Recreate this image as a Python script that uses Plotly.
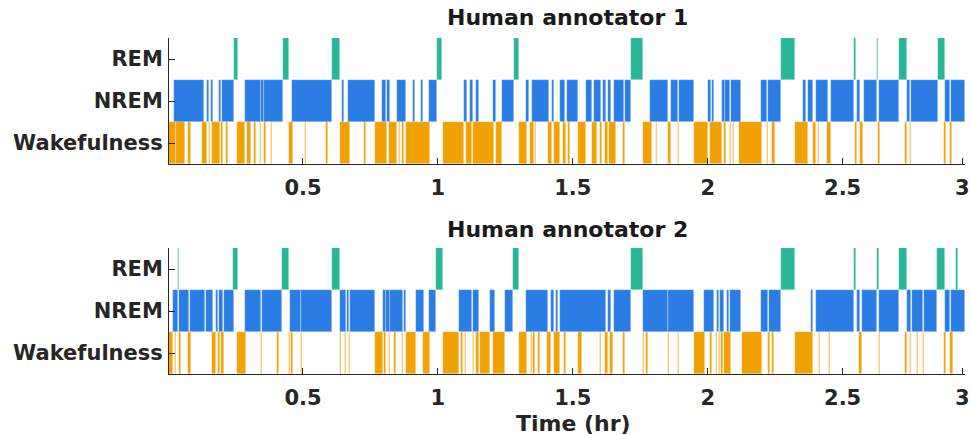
import plotly.graph_objects as go

# ---------------- data (time in hours) ----------------
STATES = ["Wakefulness", "NREM", "REM"]
X_TICK_VALS = [0.5, 1, 1.5, 2, 2.5, 2.944]
X_TICK_TEXT = ["0.5", "1", "1.5", "2", "2.5", "3"]
X_RANGE = [0.0035, 2.9536]
TITLES = ["Human annotator 1", "Human annotator 2"]
X_LABEL = "Time (hr)"

A1_REM = [(0.244, 0.259), (0.425, 0.447), (0.606, 0.636), (0.998, 1.017), (1.283, 1.299),
          (1.714, 1.760), (2.271, 2.324), (2.542, 2.548), (2.628, 2.632), (2.709, 2.737),
          (2.854, 2.879)]
A1_NREM = [(0.023, 0.133), (0.143, 0.153), (0.158, 0.165), (0.190, 0.198), (0.199, 0.244),
           (0.285, 0.343), (0.345, 0.355), (0.357, 0.425), (0.461, 0.606), (0.646, 0.651),
           (0.668, 0.766), (0.792, 0.806), (0.811, 0.821), (0.848, 0.882), (0.909, 0.917),
           (0.938, 0.944), (0.968, 0.998), (1.098, 1.108), (1.120, 1.129), (1.141, 1.153),
           (1.199, 1.202), (1.205, 1.215), (1.237, 1.283), (1.328, 1.338), (1.347, 1.412),
           (1.424, 1.431), (1.453, 1.470), (1.478, 1.520), (1.549, 1.572), (1.578, 1.605),
           (1.612, 1.622), (1.630, 1.640), (1.653, 1.689), (1.693, 1.714), (1.785, 1.853),
           (1.864, 1.890), (1.895, 1.948), (2.000, 2.012), (2.016, 2.022), (2.053, 2.063),
           (2.065, 2.084), (2.087, 2.124), (2.198, 2.219), (2.222, 2.271), (2.352, 2.363),
           (2.371, 2.392), (2.400, 2.445), (2.457, 2.542), (2.552, 2.564), (2.579, 2.628),
           (2.633, 2.709), (2.739, 2.749), (2.755, 2.854), (2.879, 2.899), (2.903, 2.953)]
A1_WAKE = [(0.004, 0.028), (0.030, 0.063), (0.075, 0.084), (0.127, 0.145), (0.151, 0.155),
           (0.164, 0.192), (0.198, 0.204), (0.213, 0.221), (0.256, 0.287), (0.291, 0.309),
           (0.319, 0.325), (0.340, 0.346), (0.355, 0.362), (0.381, 0.385), (0.448, 0.463),
           (0.509, 0.513), (0.587, 0.592), (0.637, 0.673), (0.728, 0.734), (0.768, 0.812),
           (0.818, 0.848), (0.855, 0.858), (0.866, 0.873), (0.880, 0.971), (1.018, 1.095),
           (1.104, 1.125), (1.132, 1.209), (1.217, 1.237), (1.301, 1.332), (1.342, 1.357),
           (1.360, 1.365), (1.408, 1.424), (1.431, 1.452), (1.465, 1.474), (1.483, 1.489),
           (1.520, 1.548), (1.572, 1.588), (1.601, 1.609), (1.618, 1.630), (1.636, 1.661),
           (1.687, 1.693), (1.760, 1.792), (1.807, 1.812), (1.852, 1.864), (1.890, 1.895),
           (1.948, 2.001), (2.007, 2.053), (2.059, 2.069), (2.081, 2.087), (2.093, 2.099),
           (2.117, 2.201), (2.219, 2.225), (2.240, 2.248), (2.322, 2.371), (2.389, 2.400),
           (2.408, 2.413), (2.441, 2.456), (2.546, 2.552), (2.564, 2.577), (2.632, 2.638),
           (2.733, 2.740), (2.749, 2.755), (2.875, 2.885), (2.897, 2.907)]

A2_REM = [(0.036, 0.042), (0.241, 0.260), (0.424, 0.448), (0.606, 0.636), (0.993, 1.020),
          (1.279, 1.299), (1.714, 1.760), (2.271, 2.324), (2.542, 2.548), (2.628, 2.635),
          (2.709, 2.737), (2.851, 2.879), (2.921, 2.928)]
A2_NREM = [(0.019, 0.038), (0.042, 0.079), (0.081, 0.137), (0.139, 0.165), (0.176, 0.186),
           (0.190, 0.204), (0.208, 0.244), (0.287, 0.344), (0.350, 0.424), (0.451, 0.492),
           (0.494, 0.606), (0.639, 0.658), (0.663, 0.670), (0.673, 0.766), (0.796, 0.806),
           (0.808, 0.821), (0.824, 0.870), (0.873, 0.882), (0.919, 0.947), (0.968, 0.993),
           (1.077, 1.128), (1.129, 1.153), (1.194, 1.212), (1.249, 1.279), (1.328, 1.408),
           (1.421, 1.431), (1.437, 1.445), (1.452, 1.622), (1.630, 1.640), (1.652, 1.714),
           (1.760, 1.853), (1.854, 1.948), (1.988, 2.022), (2.034, 2.041), (2.044, 2.059),
           (2.071, 2.078), (2.084, 2.124), (2.198, 2.225), (2.228, 2.271), (2.383, 2.392),
           (2.400, 2.542), (2.552, 2.564), (2.573, 2.628), (2.635, 2.709), (2.737, 2.755),
           (2.758, 2.798), (2.802, 2.851), (2.879, 2.897), (2.903, 2.953)]
A2_WAKE = [(0.004, 0.019), (0.026, 0.029), (0.042, 0.048), (0.075, 0.084), (0.164, 0.176),
           (0.186, 0.192), (0.198, 0.208), (0.256, 0.288), (0.343, 0.350), (0.404, 0.410),
           (0.447, 0.451), (0.455, 0.463), (0.492, 0.495), (0.636, 0.642), (0.657, 0.661),
           (0.670, 0.673), (0.768, 0.796), (0.802, 0.808), (0.818, 0.824), (0.839, 0.843),
           (0.866, 0.872), (0.882, 0.919), (0.944, 0.972), (1.018, 1.077), (1.086, 1.092),
           (1.102, 1.106), (1.129, 1.135), (1.141, 1.151), (1.156, 1.194), (1.205, 1.249),
           (1.301, 1.330), (1.344, 1.350), (1.354, 1.360), (1.371, 1.379), (1.406, 1.418),
           (1.431, 1.452), (1.468, 1.474), (1.520, 1.533), (1.601, 1.605), (1.619, 1.631),
           (1.638, 1.650), (1.687, 1.692), (1.760, 1.763), (1.773, 1.778), (1.852, 1.856),
           (1.890, 1.893), (1.948, 1.991), (2.010, 2.016), (2.031, 2.034), (2.041, 2.044),
           (2.049, 2.055), (2.062, 2.088), (2.127, 2.201), (2.222, 2.232), (2.240, 2.244),
           (2.322, 2.392), (2.412, 2.416), (2.450, 2.454), (2.562, 2.573), (2.636, 2.639),
           (2.733, 2.740), (2.749, 2.755), (2.776, 2.780), (2.798, 2.802), (2.875, 2.885),
           (2.897, 2.909)]

ANNOTATORS = [
    {"Wakefulness": A1_WAKE, "NREM": A1_NREM, "REM": A1_REM},
    {"Wakefulness": A2_WAKE, "NREM": A2_NREM, "REM": A2_REM},
]

# ---------------- styling ----------------
COLORS = {"Wakefulness": "#F2A104", "NREM": "#2A7DE4", "REM": "#29B597"}
AXIS_COLOR = "#262626"
FONT = "DejaVu Sans"
W, H = 970, 435
L_MARGIN, R_MARGIN = 169, 3
Y_DOMAINS = [(1 - 164 / H, 1 - 38 / H), (1 - 374 / H, 1 - 248 / H)]

fig = go.Figure()

for i, ann in enumerate(ANNOTATORS):
    xa = "x" if i == 0 else "x2"
    ya = "y" if i == 0 else "y2"
    for level, state in enumerate(STATES, start=1):
        segs = ann[state]
        fig.add_trace(go.Bar(
            x=[(s + e) / 2 for s, e in segs],
            y=[1] * len(segs),
            base=[level - 0.5] * len(segs),
            width=[e - s for s, e in segs],
            marker=dict(color=COLORS[state],
                        line=dict(color="rgba(255,255,255,0.45)", width=0.6)),
            xaxis=xa, yaxis=ya, showlegend=False, hoverinfo="skip",
        ))

axis_common = dict(showline=True, linecolor=AXIS_COLOR, linewidth=1, showgrid=False,
                   zeroline=False, ticks="inside", ticklen=6, tickcolor=AXIS_COLOR,
                   tickwidth=1)

xcommon = dict(axis_common, range=X_RANGE, tickmode="array", tickvals=X_TICK_VALS,
               ticktext=X_TICK_TEXT, ticklabelstandoff=5, ticklabeloverflow="allow",
               tickfont=dict(family=FONT, size=21, color=AXIS_COLOR, weight="bold"))
ycommon = dict(axis_common, range=[0.5, 3.5], tickmode="array", tickvals=[1, 2, 3],
               ticktext=STATES, ticklabelstandoff=1, ticklabeloverflow="allow",
               tickfont=dict(family=FONT, size=21, color=AXIS_COLOR, weight="bold"))

fig.update_layout(
    width=W, height=H,
    margin=dict(l=L_MARGIN, r=R_MARGIN, t=0, b=0),
    paper_bgcolor="white", plot_bgcolor="white",
    barmode="overlay", bargap=0,
    xaxis=dict(xcommon, domain=[0, 1], anchor="y"),
    yaxis=dict(ycommon, domain=list(Y_DOMAINS[0]), anchor="x"),
    xaxis2=dict(xcommon, domain=[0, 1], anchor="y2"),
    yaxis2=dict(ycommon, domain=list(Y_DOMAINS[1]), anchor="x2"),
)

title_font = dict(family=FONT, size=22, color="#1a1a1a", weight="bold")
fig.add_annotation(text=TITLES[0], xref="paper", yref="paper",
                   x=(569 - L_MARGIN) / (W - L_MARGIN - R_MARGIN), y=1 - 18 / H,
                   xanchor="center", yanchor="middle", showarrow=False, font=title_font)
fig.add_annotation(text=TITLES[1], xref="paper", yref="paper",
                   x=(569 - L_MARGIN) / (W - L_MARGIN - R_MARGIN), y=1 - 229 / H,
                   xanchor="center", yanchor="middle", showarrow=False, font=title_font)
fig.add_annotation(text=X_LABEL, xref="paper", yref="paper",
                   x=(575 - L_MARGIN) / (W - L_MARGIN - R_MARGIN), y=1 - 423 / H,
                   xanchor="center", yanchor="middle", showarrow=False,
                   font=dict(family=FONT, size=22, color=AXIS_COLOR, weight="bold"))

fig.write_html("out.html")
